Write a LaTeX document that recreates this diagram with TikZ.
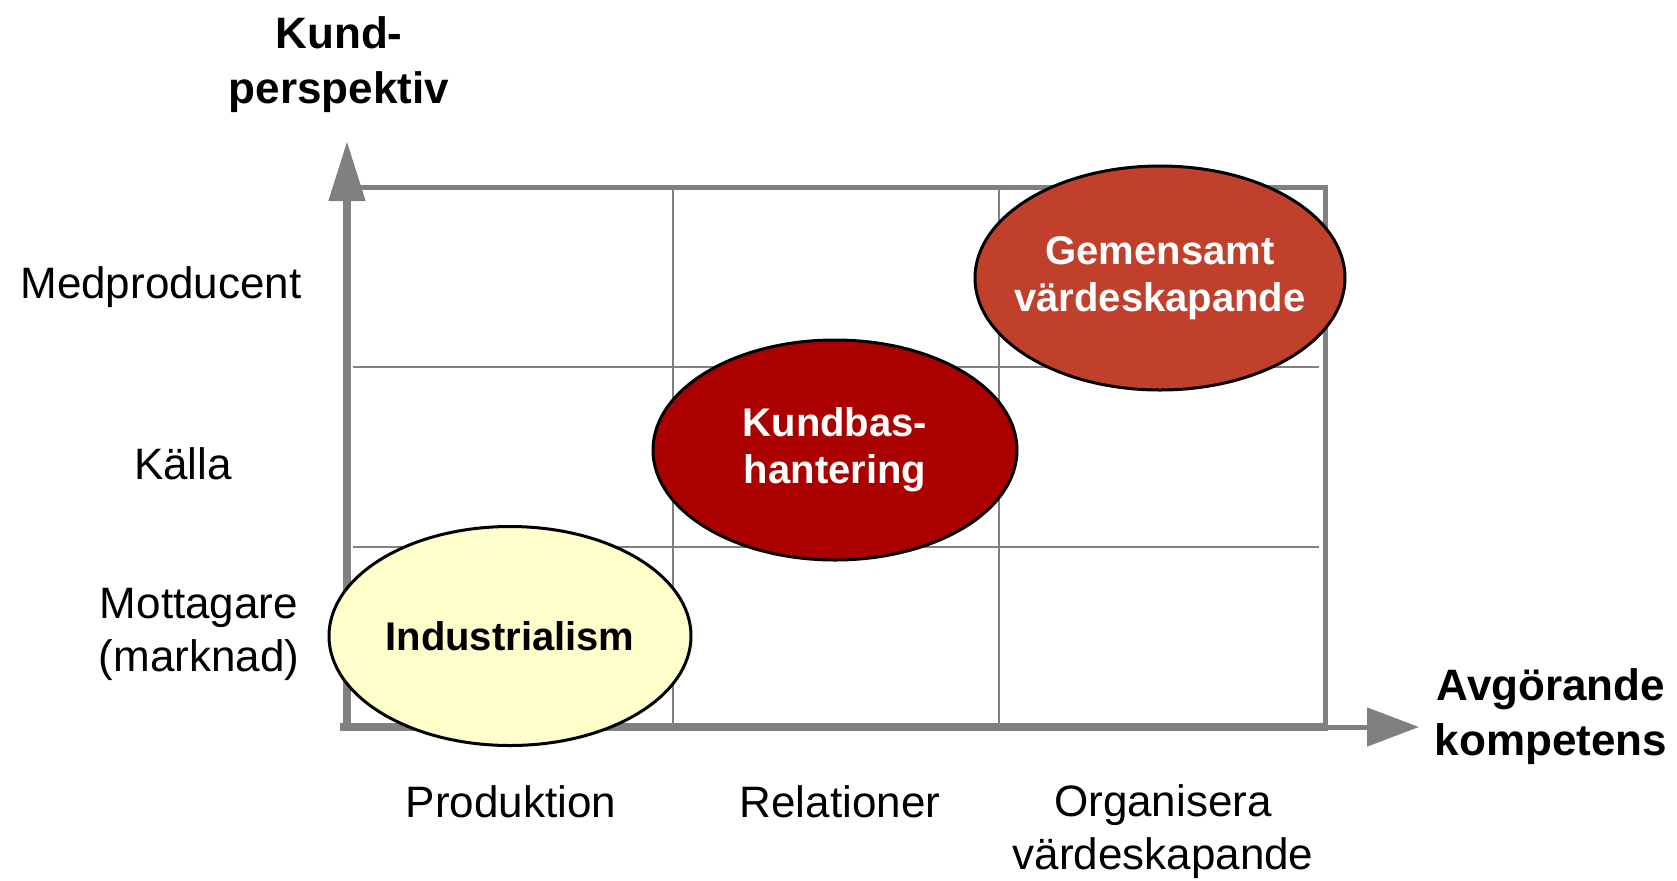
\documentclass[tikz,border=0pt]{standalone}
\usepackage{fontspec}
\setmainfont{Liberation Sans}
\usetikzlibrary{shapes.geometric,arrows.meta}
\definecolor{gridgray}{HTML}{808080}
\definecolor{prodyellow}{HTML}{FFFFCC}
\definecolor{relred}{HTML}{AA0000}
\definecolor{orgred}{HTML}{C0402C}

\begin{document}
\begin{tikzpicture}[x=0.5pt, y=-0.5pt,
  textlabel/.style={font=\fontsize{22}{26.5}\selectfont, align=center, inner sep=0},
  titlelabel/.style={textlabel, font=\fontsize{22}{27.5}\selectfont\bfseries},
  phase/.style={draw=black, line width=1.5pt, ellipse, inner sep=0, inner xsep=-30pt, align=center, font=\fontsize{20}{23.5}\selectfont\bfseries},
  gridline/.style={gridgray, line width=1pt},
  axisline/.style={gridgray, line width=4pt}]
\useasboundingbox (0,0) rectangle (1677,880);

% Grid
\foreach \x in {673,999}
  \draw[gridline] (\x,187) -- (\x,727);
\foreach \y in {367,547}
  \draw[gridline] (353,\y) -- (1319,\y);

% Frame
\draw[gridgray, line width=2.5pt] (347,187) rectangle (1325,727);

% Axes
\coordinate (origin) at (347,729);
\coordinate (ytip) at (347,141);
\coordinate (xstart) at (340,727);
\coordinate (xend) at (1328,727);
\coordinate (xtip) at (1419,727);
\draw[axisline, -{Triangle[width=17.5pt,length=30pt]}] (origin) -- (ytip);
\draw[axisline] (xstart) -- (xend);
\draw[gridgray, line width=2.5pt, -{Triangle[width=19pt,length=26pt]}] (xend) -- (xtip);

% Phases
\node[phase, fill=prodyellow, minimum width=181pt, minimum height=109.5pt] (industrialism) at (510,636) {Industrialism};
\node[phase, fill=relred, text=white, minimum width=182pt, minimum height=110pt] (kundbas) at (835,450) {Kundbas-\\hantering};
\node[phase, fill=orgred, text=white, minimum width=185pt, minimum height=112pt] (gemensamt) at (1160,278) {Gemensamt\\värdeskapande};

% Axis titles
\node[titlelabel] (kundperspektiv) at (339,65) {Kund-\\perspektiv};
\node[titlelabel] (kompetens) at (1551,717) {Avgörande\\kompetens};

% Levels
\node[textlabel, anchor=base] (medproducent) at (161,298) {Medproducent};
\node[textlabel, anchor=base] (kalla) at (183,479) {Källa};
\node[textlabel] (mottagare) at (199,634) {Mottagare\\(marknad)};

% Competences
\node[textlabel, anchor=base] (produktion) at (511,817) {Produktion};
\node[textlabel, anchor=base] (relationer) at (840,817) {Relationer};
\node[textlabel] (organisera) at (1163,832) {Organisera\\värdeskapande};
\end{tikzpicture}
\end{document}
